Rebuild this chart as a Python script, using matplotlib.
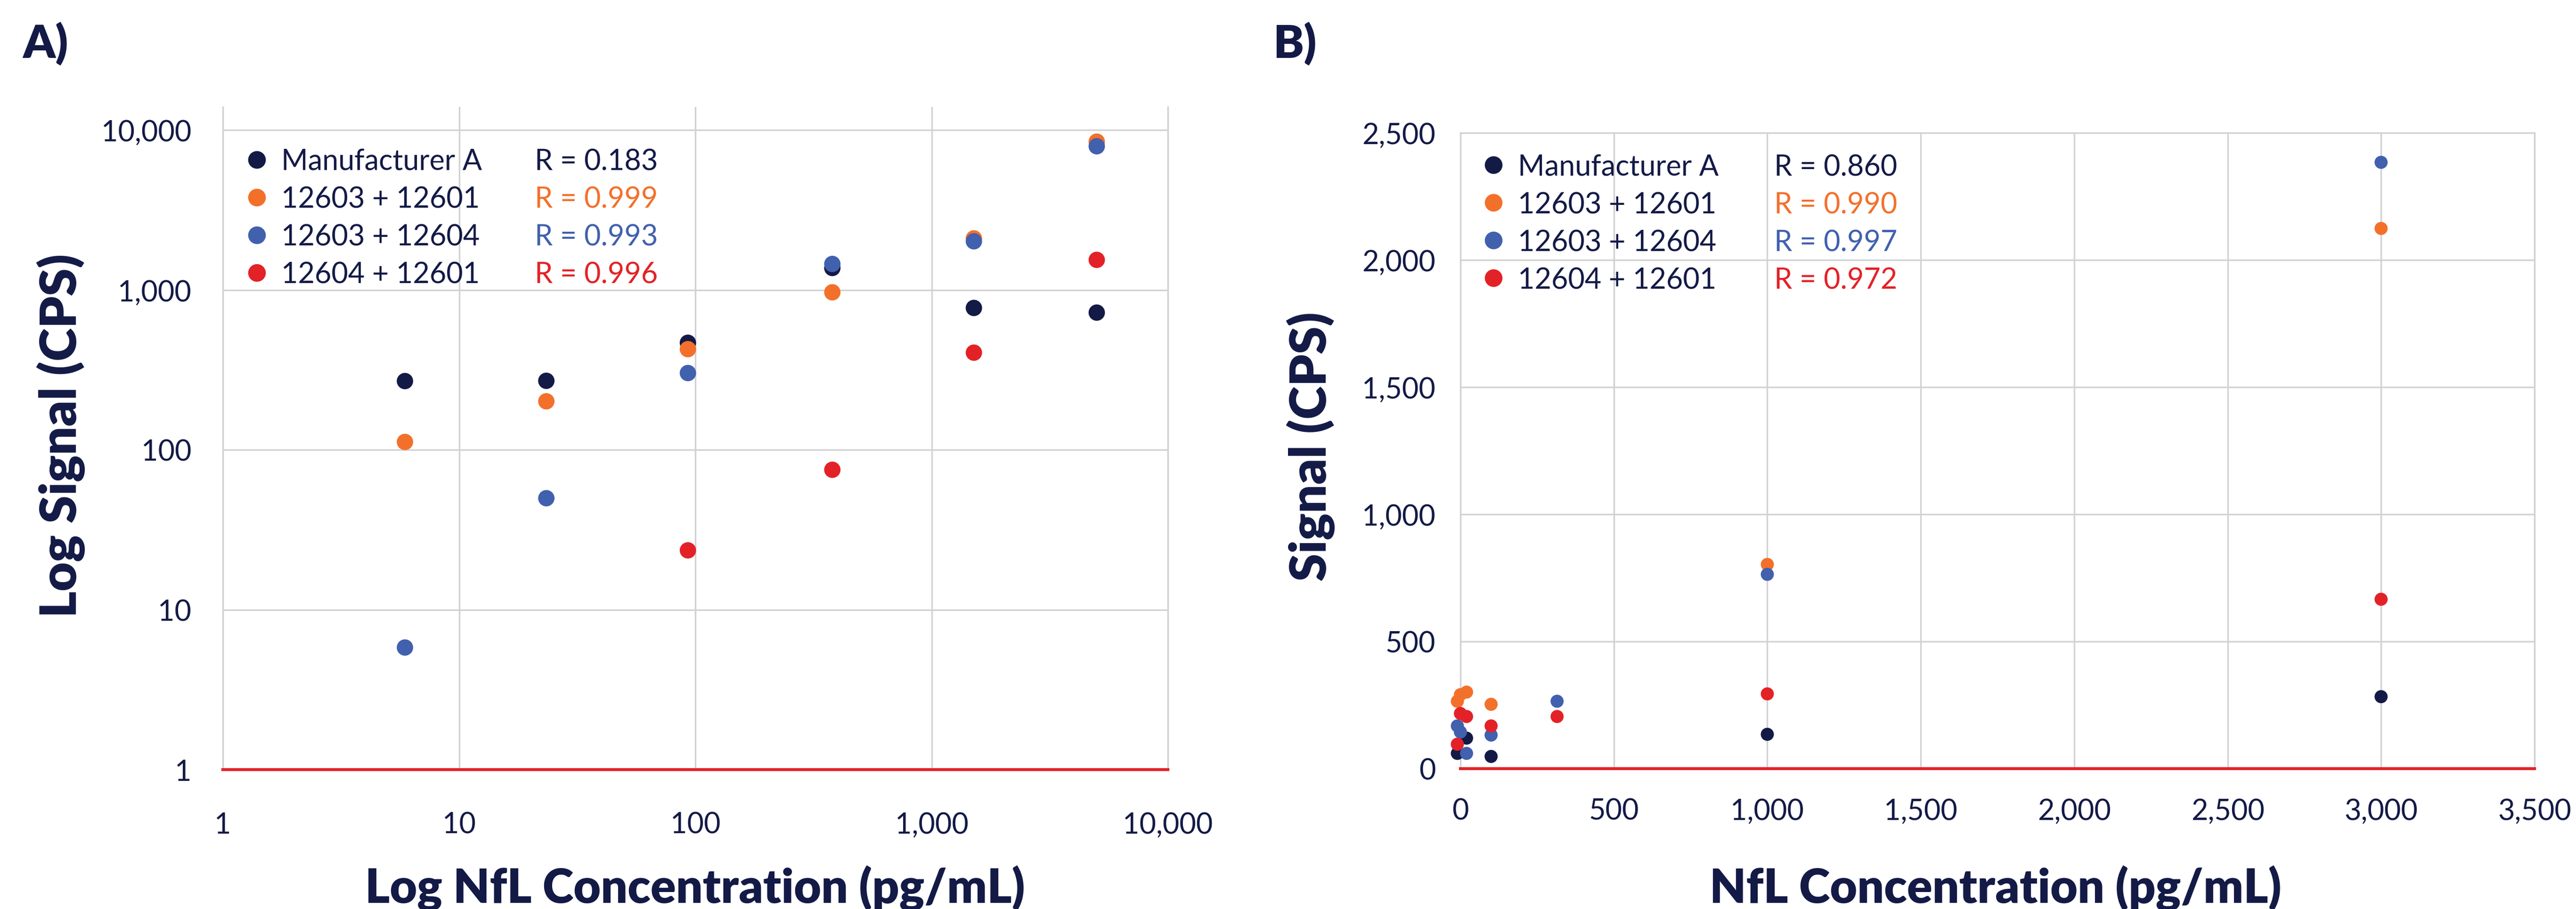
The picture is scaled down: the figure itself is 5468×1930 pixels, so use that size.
import numpy as np
import matplotlib
matplotlib.use("Agg")
import matplotlib.pyplot as plt
from matplotlib.ticker import FixedLocator, NullLocator, FuncFormatter

plt.rcParams['font.family'] = ['Lato', 'DejaVu Sans']

# ---------------- data ----------------
series_names = ["Manufacturer A", "12603 + 12601", "12603 + 12604", "12604 + 12601"]
series_colors = ["#131a46", "#f3702b", "#4160ae", "#e32227"]

# Panel A (log-log)
conc_a = [5.9, 23.4, 93.0, 380.0, 1510.0, 5000.0]
sig_a_manA = [269, 270, 467, 1371, 771, 721]
sig_a_0301 = [112, 201, 426, 966, 2099, 8457]
sig_a_0304 = [5.8, 49.8, 302, 1453, 2013, 7912]
sig_a_0401 = [np.nan, np.nan, 23.5, 75, 405, 1541]
r_a = ["R = 0.183", "R = 0.999", "R = 0.993", "R = 0.996"]

# Panel B (linear)
conc_b = [-10, 0, 20, 100, 315, 1000, 3000]
sig_b_manA = [60, np.nan, 120, 48, np.nan, 135, 283]
sig_b_0301 = [265, 291, 301, 253, np.nan, 803, 2124]
sig_b_0304 = [168, 144, 60, 132, 265, 764, 2384]
sig_b_0401 = [96, 217, 205, 168, 205, 294, 666]
r_b = ["R = 0.860", "R = 0.990", "R = 0.997", "R = 0.972"]

xticks_a = [1, 10, 100, 1000, 10000]
yticks_a = [1, 10, 100, 1000, 10000]
xticks_b = [0, 500, 1000, 1500, 2000, 2500, 3000, 3500]
yticks_b = [0, 500, 1000, 1500, 2000, 2500]

# ---------------- layout ----------------
W, H = 5468, 1931
DPI = 100
NAVY = "#131a46"
GRID = "#d2d2d2"
RED = "#e32227"
TICK_FS = 44

fig = plt.figure(figsize=(W / DPI, H / DPI), dpi=DPI)
fig.patch.set_facecolor("white")


def fx(x):
    return x / W


def fy(y):
    return 1 - y / H


def box(l, t, r, b):
    return [fx(l), fy(b), fx(r) - fx(l), fy(t) - fy(b)]


axA = fig.add_axes(box(473, 228, 2479, 1635))
axB = fig.add_axes(box(3100, 283, 5380, 1633))

comma = FuncFormatter(lambda v, p: f"{v:,.0f}")

# Panel A
axA.set_xscale("log")
axA.set_yscale("log")
axA.set_xlim(1, 10000)
axA.set_ylim(1, 10 ** (4 + 49 / 339.5))
for ys, c in zip([sig_a_manA, sig_a_0301, sig_a_0304, sig_a_0401], series_colors):
    axA.scatter(conc_a, ys, s=25 ** 2, color=c, edgecolors="none", zorder=4, clip_on=False)
axA.xaxis.set_major_locator(FixedLocator(xticks_a))
axA.yaxis.set_major_locator(FixedLocator(yticks_a))
axA.xaxis.set_minor_locator(NullLocator())
axA.yaxis.set_minor_locator(NullLocator())
axA.xaxis.set_major_formatter(comma)
axA.yaxis.set_major_formatter(comma)
axA.tick_params(axis="x", length=0, pad=64, labelsize=TICK_FS, labelcolor=NAVY)
axA.tick_params(axis="y", length=0, pad=48, labelsize=TICK_FS, labelcolor=NAVY)
axA.grid(True, color=GRID, linewidth=2.4, zorder=0)
axA.set_axisbelow(True)
for s in ["top", "bottom"]:
    axA.spines[s].set_visible(False)
for s in ["left", "right"]:
    axA.spines[s].set_color(GRID)
    axA.spines[s].set_linewidth(2.4)
axA.axhline(1, color=RED, linewidth=4.5, zorder=3, clip_on=False)

# Panel B
axB.set_xlim(0, 3500)
axB.set_ylim(0, 2500)
for ys, c in zip([sig_b_manA, sig_b_0301, sig_b_0304, sig_b_0401], series_colors):
    axB.scatter(conc_b, ys, s=20 ** 2, color=c, edgecolors="none", zorder=4, clip_on=False)
axB.xaxis.set_major_locator(FixedLocator(xticks_b))
axB.yaxis.set_major_locator(FixedLocator(yticks_b))
axB.xaxis.set_major_formatter(comma)
axB.yaxis.set_major_formatter(comma)
axB.tick_params(axis="x", length=0, pad=44, labelsize=TICK_FS, labelcolor=NAVY)
axB.tick_params(axis="y", length=0, pad=38, labelsize=TICK_FS, labelcolor=NAVY)
axB.grid(True, color=GRID, linewidth=2.4, zorder=0)
axB.set_axisbelow(True)
axB.spines["bottom"].set_visible(False)
for s in ["left", "right", "top"]:
    axB.spines[s].set_color(GRID)
    axB.spines[s].set_linewidth(2.4)
axB.axhline(0, color=RED, linewidth=4.5, zorder=3, clip_on=False)

# Axis labels (baseline-anchored)
xl_kw = dict(color=NAVY, fontsize=72, fontweight="heavy", ha="center", va="baseline")
yl_kw = dict(color=NAVY, fontsize=77, fontweight="heavy", ha="center", va="baseline",
             rotation=90, rotation_mode="anchor")
fig.text(fx(1475), fy(1917), "Log NfL Concentration (pg/mL)", **xl_kw)
fig.text(fx(4236), fy(1917), "NfL Concentration (pg/mL)", **xl_kw)
fig.text(fx(162), fy(925), "Log Signal (CPS)", **yl_kw)
fig.text(fx(2815), fy(948), "Signal (CPS)", **yl_kw)

# Panel letters
fig.text(fx(48), fy(123), "A)", color=NAVY, fontsize=70, fontweight="heavy", ha="left", va="baseline")
fig.text(fx(2702), fy(123), "B)", color=NAVY, fontsize=70, fontweight="heavy", ha="left", va="baseline")


# Legends (manual, with R values)
def legend(ax, mx, tx, rx, rows, rvals):
    for name, c, rv, yy in zip(series_names, series_colors, rvals, rows):
        ax.plot([fx(mx)], [fy(yy)], "o", ms=27, color=c, mec="none",
                transform=fig.transFigure, clip_on=False, zorder=6)
        fig.text(fx(tx), fy(yy + 22), name, color=NAVY, fontsize=TICK_FS, ha="left", va="baseline")
        fig.text(fx(rx), fy(yy + 22), rv, color=c, fontsize=TICK_FS, ha="left", va="baseline")


legend(axA, 545, 597, 1135, [340, 420, 500, 580], r_a)
legend(axB, 3170, 3222, 3766, [351, 431, 511, 591], r_b)

fig.savefig("out.png", dpi=DPI, facecolor="white")
